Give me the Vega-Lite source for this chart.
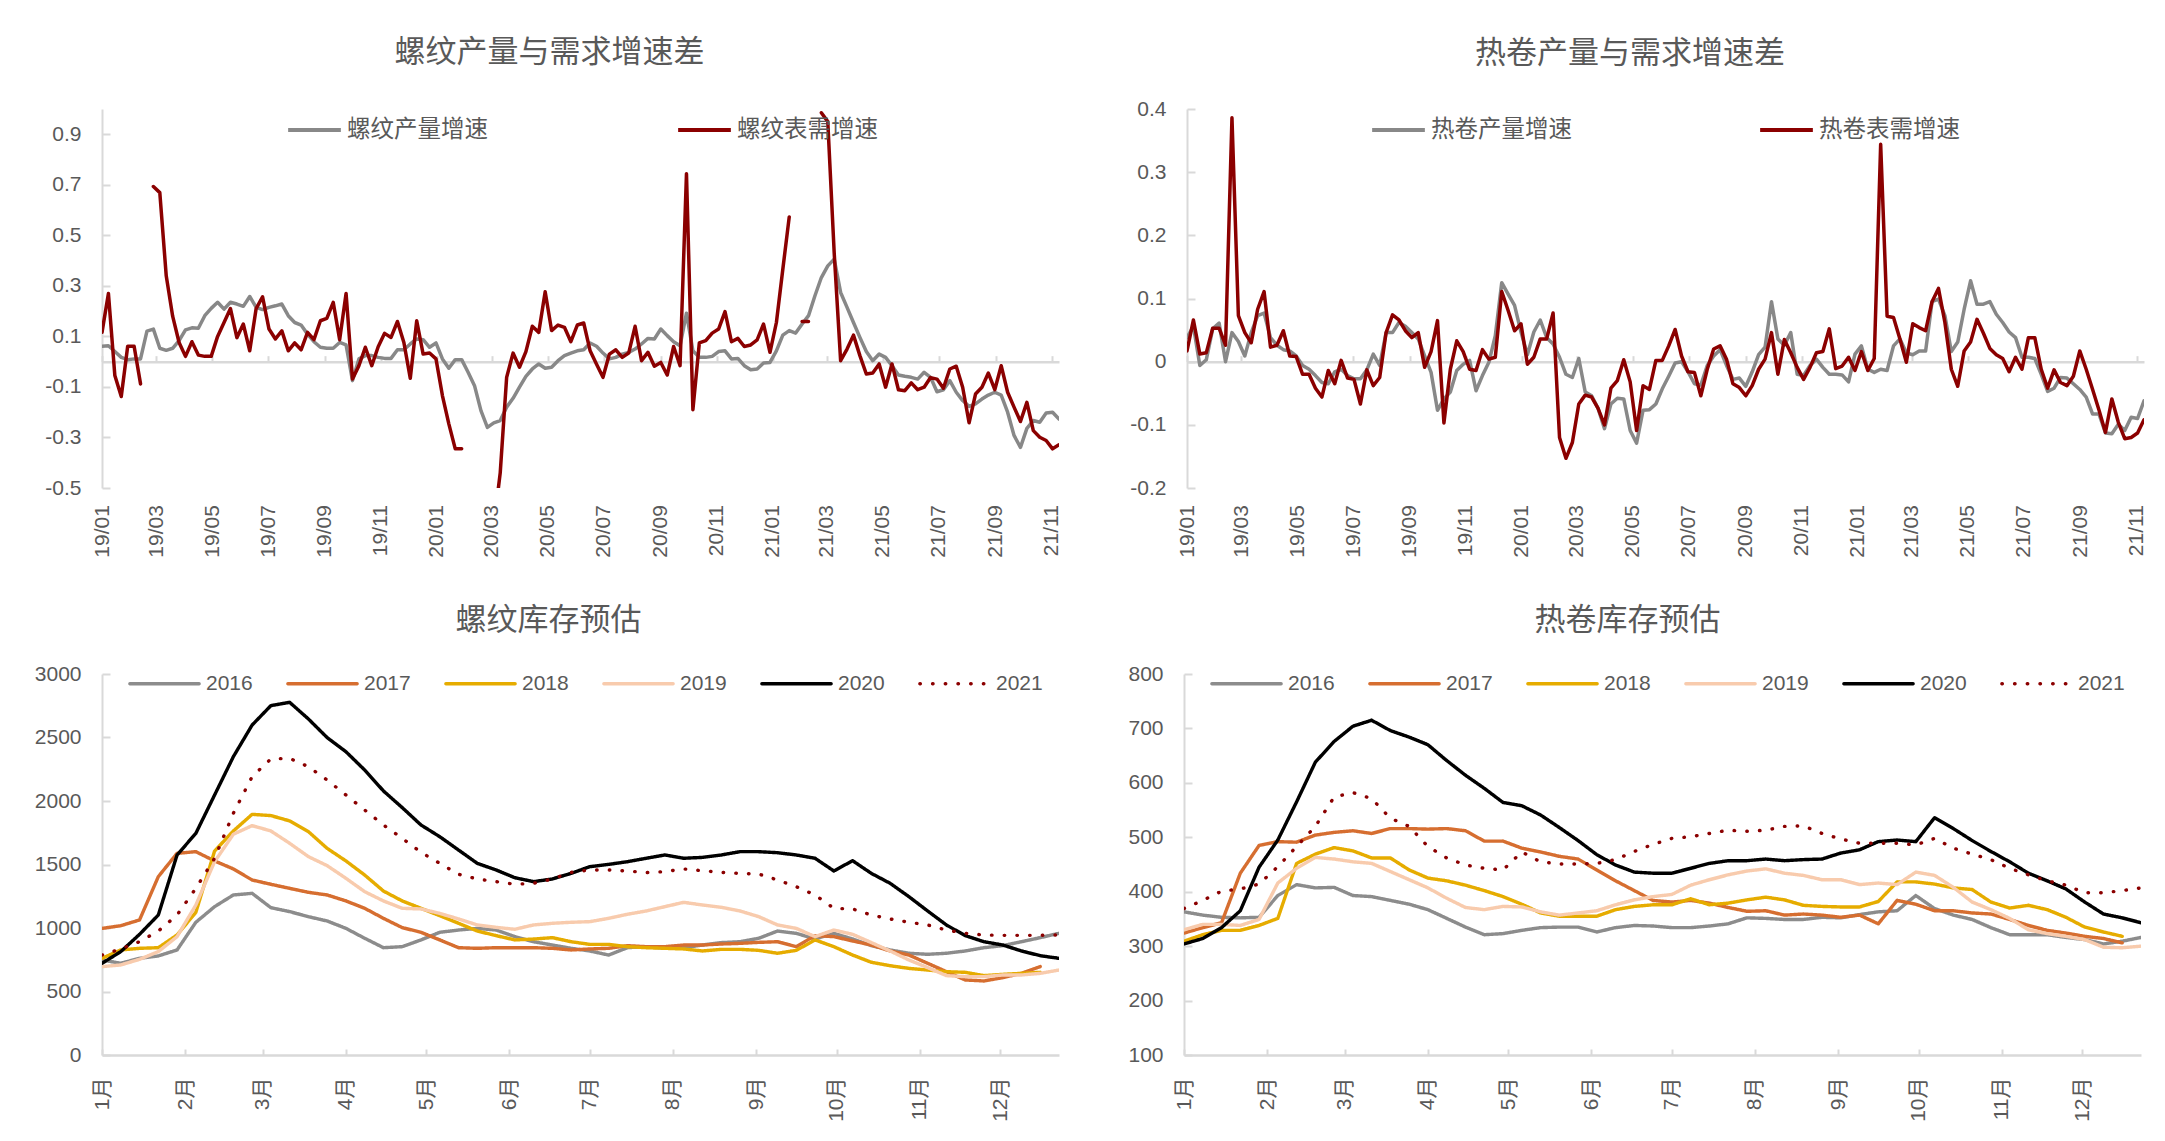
{
"$schema": "https://vega.github.io/schema/vega-lite/v6.json",
"background": "white",
"padding": {"left": 4, "top": 37, "right": 5, "bottom": 5},
"config": {
  "view": {"stroke": null},
  "font": "Liberation Sans",
  "axis": {"labelFont": "Liberation Sans, Noto Sans CJK SC", "labelFontSize": 21, "labelColor": "#595959", "grid": false, "domainColor": "#d9d9d9", "domainWidth": 2, "tickColor": "#d9d9d9", "tickWidth": 2},
  "axisY": {"ticks": true, "tickSize": -8, "domainWidth": 2},
  "title": {"font": "Noto Sans CJK SC", "fontSize": 31, "fontWeight": "normal", "color": "#595959", "offset": 38, "anchor": "middle"}
},
"datasets": {
"top": [
{"t":"2019-01-01","p1":0.061,"q1":0.116,"p2":0.038,"q2":0.017},
{"t":"2019-01-08","p1":0.063,"q1":0.27,"p2":0.056,"q2":0.066},
{"t":"2019-01-15","p1":0.04,"q1":-0.055,"p2":-0.006,"q2":0.012},
{"t":"2019-01-22","p1":0.017,"q1":-0.138,"p2":0.003,"q2":0.014},
{"t":"2019-01-29","p1":0.008,"q1":0.061,"p2":0.052,"q2":0.053},
{"t":"2019-02-05","p1":0.011,"q1":0.061,"p2":0.061,"q2":0.053},
{"t":"2019-02-12","p1":0.011,"q1":-0.088,"p2":0,"q2":0.026},
{"t":"2019-02-19","p1":0.121,"q1":null,"p2":0.046,"q2":0.386},
{"t":"2019-02-26","p1":0.129,"q1":0.693,"p2":0.032,"q2":0.073},
{"t":"2019-03-05","p1":0.053,"q1":0.669,"p2":0.009,"q2":0.046},
{"t":"2019-03-12","p1":0.045,"q1":0.34,"p2":0.046,"q2":0.03},
{"t":"2019-03-19","p1":0.053,"q1":0.18,"p2":0.073,"q2":0.083},
{"t":"2019-03-26","p1":0.083,"q1":0.076,"p2":0.077,"q2":0.111},
{"t":"2019-04-02","p1":0.126,"q1":0.021,"p2":0.038,"q2":0.023},
{"t":"2019-04-09","p1":0.134,"q1":0.079,"p2":0.026,"q2":0.026},
{"t":"2019-04-16","p1":0.132,"q1":0.026,"p2":0.019,"q2":0.049},
{"t":"2019-04-23","p1":0.182,"q1":0.021,"p2":0.017,"q2":0.009},
{"t":"2019-04-30","p1":0.211,"q1":0.021,"p2":0.009,"q2":0.008},
{"t":"2019-05-07","p1":0.235,"q1":0.10,"p2":-0.006,"q2":-0.02},
{"t":"2019-05-14","p1":0.208,"q1":0.155,"p2":-0.012,"q2":-0.02},
{"t":"2019-05-21","p1":0.235,"q1":0.21,"p2":-0.022,"q2":-0.042},
{"t":"2019-05-28","p1":0.228,"q1":0.095,"p2":-0.033,"q2":-0.056},
{"t":"2019-06-04","p1":0.219,"q1":0.149,"p2":-0.035,"q2":-0.014},
{"t":"2019-06-11","p1":0.258,"q1":0.043,"p2":-0.016,"q2":-0.035},
{"t":"2019-06-18","p1":0.215,"q1":0.21,"p2":-0.012,"q2":0.002},
{"t":"2019-06-25","p1":0.206,"q1":0.257,"p2":-0.022,"q2":-0.026},
{"t":"2019-07-02","p1":0.215,"q1":0.129,"p2":-0.027,"q2":-0.028},
{"t":"2019-07-09","p1":0.221,"q1":0.09,"p2":-0.027,"q2":-0.067},
{"t":"2019-07-16","p1":0.228,"q1":0.122,"p2":-0.013,"q2":-0.013},
{"t":"2019-07-23","p1":0.182,"q1":0.043,"p2":0.012,"q2":-0.038},
{"t":"2019-07-30","p1":0.155,"q1":0.074,"p2":-0.006,"q2":-0.025},
{"t":"2019-08-06","p1":0.145,"q1":0.047,"p2":0.046,"q2":0.046},
{"t":"2019-08-13","p1":0.109,"q1":0.116,"p2":0.046,"q2":0.074},
{"t":"2019-08-20","p1":0.079,"q1":0.087,"p2":0.062,"q2":0.066},
{"t":"2019-08-27","p1":0.057,"q1":0.162,"p2":0.056,"q2":0.049},
{"t":"2019-09-03","p1":0.053,"q1":0.171,"p2":0.046,"q2":0.038},
{"t":"2019-09-10","p1":0.053,"q1":0.235,"p2":0.036,"q2":0.046},
{"t":"2019-09-17","p1":0.076,"q1":0.087,"p2":0.009,"q2":-0.009},
{"t":"2019-09-24","p1":0.066,"q1":0.27,"p2":-0.017,"q2":0.016},
{"t":"2019-10-01","p1":-0.075,"q1":-0.069,"p2":-0.077,"q2":0.065},
{"t":"2019-10-08","p1":0.011,"q1":-0.016,"p2":-0.059,"q2":-0.097},
{"t":"2019-10-15","p1":0.024,"q1":0.057,"p2":-0.048,"q2":-0.012},
{"t":"2019-10-22","p1":0.024,"q1":-0.016,"p2":-0.014,"q2":0.033},
{"t":"2019-10-29","p1":0.017,"q1":0.059,"p2":-0.004,"q2":0.016},
{"t":"2019-11-05","p1":0.013,"q1":0.112,"p2":0.002,"q2":-0.012},
{"t":"2019-11-12","p1":0.013,"q1":0.096,"p2":-0.046,"q2":-0.014},
{"t":"2019-11-19","p1":0.047,"q1":0.159,"p2":-0.022,"q2":0.019},
{"t":"2019-11-26","p1":0.047,"q1":0.076,"p2":-0.001,"q2":0.004},
{"t":"2019-12-03","p1":0.07,"q1":-0.066,"p2":0.041,"q2":0.007},
{"t":"2019-12-10","p1":0.09,"q1":0.162,"p2":0.125,"q2":0.111},
{"t":"2019-12-17","p1":0.087,"q1":0.03,"p2":0.107,"q2":0.081},
{"t":"2019-12-24","p1":0.057,"q1":0.034,"p2":0.089,"q2":0.049},
{"t":"2019-12-31","p1":0.074,"q1":0.011,"p2":0.047,"q2":0.06},
{"t":"2020-01-07","p1":0.011,"q1":-0.134,"p2":0.011,"q2":-0.004},
{"t":"2020-01-14","p1":-0.026,"q1":-0.246,"p2":0.047,"q2":0.007},
{"t":"2020-01-21","p1":0.008,"q1":-0.345,"p2":0.066,"q2":0.036},
{"t":"2020-01-28","p1":0.008,"q1":-0.345,"p2":0.038,"q2":0.036},
{"t":"2020-02-04","p1":-0.042,"q1":null,"p2":0.028,"q2":0.077},
{"t":"2020-02-11","p1":-0.095,"q1":null,"p2":0.007,"q2":-0.12},
{"t":"2020-02-18","p1":-0.194,"q1":null,"p2":-0.02,"q2":-0.153},
{"t":"2020-02-25","p1":-0.26,"q1":null,"p2":-0.025,"q2":-0.128},
{"t":"2020-03-03","p1":-0.242,"q1":-0.65,"p2":0.005,"q2":-0.067},
{"t":"2020-03-10","p1":-0.233,"q1":-0.44,"p2":-0.048,"q2":-0.053},
{"t":"2020-03-17","p1":-0.18,"q1":-0.062,"p2":-0.054,"q2":-0.056},
{"t":"2020-03-24","p1":-0.145,"q1":0.034,"p2":-0.074,"q2":-0.074},
{"t":"2020-03-31","p1":-0.101,"q1":-0.022,"p2":-0.106,"q2":-0.1},
{"t":"2020-04-07","p1":-0.058,"q1":0.04,"p2":-0.067,"q2":-0.042},
{"t":"2020-04-14","p1":-0.029,"q1":0.14,"p2":-0.058,"q2":-0.03},
{"t":"2020-04-21","p1":-0.009,"q1":0.116,"p2":-0.059,"q2":0.003},
{"t":"2020-04-28","p1":-0.026,"q1":0.277,"p2":-0.109,"q2":-0.032},
{"t":"2020-05-05","p1":-0.022,"q1":0.123,"p2":-0.129,"q2":-0.109},
{"t":"2020-05-12","p1":0.004,"q1":0.145,"p2":-0.077,"q2":-0.038},
{"t":"2020-05-19","p1":0.024,"q1":0.136,"p2":-0.076,"q2":-0.044},
{"t":"2020-05-26","p1":0.034,"q1":0.079,"p2":-0.067,"q2":0.002},
{"t":"2020-06-02","p1":0.043,"q1":0.145,"p2":-0.043,"q2":0.002},
{"t":"2020-06-09","p1":0.047,"q1":0.153,"p2":-0.023,"q2":0.025},
{"t":"2020-06-16","p1":0.074,"q1":0.043,"p2":-0.002,"q2":0.051},
{"t":"2020-06-23","p1":0.061,"q1":-0.01,"p2":0,"q2":0.009},
{"t":"2020-06-30","p1":0.034,"q1":-0.062,"p2":-0.016,"q2":-0.016},
{"t":"2020-07-07","p1":0.011,"q1":0.03,"p2":-0.035,"q2":-0.017},
{"t":"2020-07-14","p1":0.017,"q1":0.047,"p2":-0.037,"q2":-0.054},
{"t":"2020-07-21","p1":0.03,"q1":0.017,"p2":-0.006,"q2":-0.012},
{"t":"2020-07-28","p1":0.037,"q1":0.034,"p2":0.009,"q2":0.02},
{"t":"2020-08-04","p1":0.05,"q1":0.14,"p2":0.019,"q2":0.025},
{"t":"2020-08-11","p1":0.07,"q1":0.004,"p2":-0.006,"q2":0.004},
{"t":"2020-08-18","p1":0.092,"q1":0.037,"p2":-0.028,"q2":-0.035},
{"t":"2020-08-25","p1":0.09,"q1":-0.018,"p2":-0.026,"q2":-0.041},
{"t":"2020-09-01","p1":0.129,"q1":-0.003,"p2":-0.039,"q2":-0.054},
{"t":"2020-09-08","p1":0.103,"q1":-0.053,"p2":-0.016,"q2":-0.038},
{"t":"2020-09-15","p1":0.079,"q1":0.06,"p2":0.011,"q2":-0.012},
{"t":"2020-09-22","p1":0.063,"q1":-0.016,"p2":0.023,"q2":0.004},
{"t":"2020-09-29","p1":0.192,"q1":0.744,"p2":0.095,"q2":0.046},
{"t":"2020-10-06","p1":0.043,"q1":-0.19,"p2":0.036,"q2":-0.02},
{"t":"2020-10-13","p1":0.017,"q1":0.074,"p2":0.026,"q2":0.035},
{"t":"2020-10-20","p1":0.017,"q1":0.083,"p2":0.046,"q2":0.014},
{"t":"2020-10-27","p1":0.021,"q1":0.113,"p2":-0.02,"q2":-0.009},
{"t":"2020-11-03","p1":0.04,"q1":0.129,"p2":-0.022,"q2":-0.028},
{"t":"2020-11-10","p1":0.043,"q1":0.198,"p2":-0.006,"q2":-0.009},
{"t":"2020-11-17","p1":0.011,"q1":0.079,"p2":0.004,"q2":0.014},
{"t":"2020-11-24","p1":0.013,"q1":0.092,"p2":-0.009,"q2":0.016},
{"t":"2020-12-01","p1":-0.016,"q1":0.06,"p2":-0.02,"q2":0.052},
{"t":"2020-12-08","p1":-0.032,"q1":0.066,"p2":-0.02,"q2":-0.011},
{"t":"2020-12-15","p1":-0.029,"q1":0.086,"p2":-0.021,"q2":-0.007},
{"t":"2020-12-22","p1":-0.005,"q1":0.149,"p2":-0.032,"q2":0.007},
{"t":"2020-12-29","p1":-0.003,"q1":0.037,"p2":0.012,"q2":-0.014},
{"t":"2021-01-05","p1":0.043,"q1":0.155,"p2":0.025,"q2":0.016},
{"t":"2021-01-12","p1":0.105,"q1":0.366,"p2":-0.012,"q2":-0.014},
{"t":"2021-01-19","p1":0.123,"q1":0.573,"p2":-0.017,"q2":0.005},
{"t":"2021-01-26","p1":0.113,"q1":null,"p2":-0.012,"q2":0.344},
{"t":"2021-02-02","p1":0.149,"q1":0.159,"p2":-0.014,"q2":0.072},
{"t":"2021-02-09","p1":0.182,"q1":0.159,"p2":0.025,"q2":0.07},
{"t":"2021-02-16","p1":0.261,"q1":null,"p2":0.036,"q2":0.036},
{"t":"2021-02-23","p1":0.333,"q1":0.985,"p2":0.014,"q2":-0.001},
{"t":"2021-03-02","p1":0.379,"q1":0.95,"p2":0.011,"q2":0.06},
{"t":"2021-03-09","p1":0.406,"q1":0.43,"p2":0.017,"q2":0.054},
{"t":"2021-03-16","p1":0.274,"q1":0.004,"p2":0.017,"q2":0.049},
{"t":"2021-03-23","p1":0.215,"q1":0.05,"p2":0.095,"q2":0.095},
{"t":"2021-03-30","p1":0.155,"q1":0.105,"p2":0.099,"q2":0.116},
{"t":"2021-04-06","p1":0.096,"q1":0.024,"p2":0.073,"q2":0.062},
{"t":"2021-04-13","p1":0.04,"q1":-0.049,"p2":0.016,"q2":-0.012},
{"t":"2021-04-20","p1":0.004,"q1":-0.045,"p2":0.031,"q2":-0.039},
{"t":"2021-04-27","p1":0.03,"q1":-0.009,"p2":0.083,"q2":0.017},
{"t":"2021-05-04","p1":0.017,"q1":-0.101,"p2":0.128,"q2":0.031},
{"t":"2021-05-11","p1":-0.016,"q1":-0.009,"p2":0.091,"q2":0.067},
{"t":"2021-05-18","p1":-0.053,"q1":-0.111,"p2":0.091,"q2":0.045},
{"t":"2021-05-25","p1":-0.058,"q1":-0.115,"p2":0.095,"q2":0.021},
{"t":"2021-06-01","p1":-0.062,"q1":-0.084,"p2":0.075,"q2":0.011},
{"t":"2021-06-08","p1":-0.069,"q1":-0.111,"p2":0.062,"q2":0.005},
{"t":"2021-06-15","p1":-0.042,"q1":-0.101,"p2":0.047,"q2":-0.016},
{"t":"2021-06-22","p1":-0.062,"q1":-0.063,"p2":0.038,"q2":0.007},
{"t":"2021-06-29","p1":-0.119,"q1":-0.069,"p2":0.007,"q2":-0.012},
{"t":"2021-07-06","p1":-0.111,"q1":-0.105,"p2":0.007,"q2":0.038},
{"t":"2021-07-13","p1":-0.075,"q1":-0.029,"p2":0.005,"q2":0.038},
{"t":"2021-07-20","p1":-0.121,"q1":-0.018,"p2":-0.02,"q2":-0.012},
{"t":"2021-07-27","p1":-0.154,"q1":-0.101,"p2":-0.047,"q2":-0.042},
{"t":"2021-08-03","p1":-0.177,"q1":-0.242,"p2":-0.042,"q2":-0.013},
{"t":"2021-08-10","p1":-0.167,"q1":-0.128,"p2":-0.025,"q2":-0.033},
{"t":"2021-08-17","p1":-0.148,"q1":-0.101,"p2":-0.026,"q2":-0.038},
{"t":"2021-08-24","p1":-0.132,"q1":-0.045,"p2":-0.035,"q2":-0.023},
{"t":"2021-08-31","p1":-0.121,"q1":-0.111,"p2":-0.044,"q2":0.017},
{"t":"2021-09-07","p1":-0.132,"q1":-0.016,"p2":-0.056,"q2":-0.012},
{"t":"2021-09-14","p1":-0.2,"q1":-0.121,"p2":-0.083,"q2":-0.044},
{"t":"2021-09-21","p1":-0.292,"q1":-0.18,"p2":-0.083,"q2":-0.077},
{"t":"2021-09-28","p1":-0.339,"q1":-0.237,"p2":-0.113,"q2":-0.112},
{"t":"2021-10-05","p1":-0.264,"q1":-0.161,"p2":-0.114,"q2":-0.059},
{"t":"2021-10-12","p1":-0.233,"q1":-0.273,"p2":-0.099,"q2":-0.096},
{"t":"2021-10-19","p1":-0.24,"q1":-0.299,"p2":-0.109,"q2":-0.122},
{"t":"2021-10-26","p1":-0.203,"q1":-0.312,"p2":-0.088,"q2":-0.12},
{"t":"2021-11-02","p1":-0.2,"q1":-0.345,"p2":-0.09,"q2":-0.113},
{"t":"2021-11-09","p1":-0.227,"q1":-0.329,"p2":-0.062,"q2":-0.092}
],
"rb": [
{"d":"2020-01-01","2016":748,"2017":997,"2018":761,"2019":696,"2020":722,"2021":787},
{"d":"2020-01-08","2016":722,"2017":1018,"2018":827,"2019":709,"2020":814,"2021":835},
{"d":"2020-01-15","2016":761,"2017":1063,"2018":840,"2019":753,"2020":950,"2021":892},
{"d":"2020-01-22","2016":780,"2017":1404,"2018":845,"2019":814,"2020":1102,"2021":976},
{"d":"2020-01-29","2016":827,"2017":1588,"2018":945,"2019":932,"2020":1575,"2021":1102},
{"d":"2020-02-05","2016":1045,"2017":1601,"2018":1123,"2019":1181,"2020":1745,"2021":1312},
{"d":"2020-02-12","2016":1168,"2017":1528,"2018":1606,"2019":1522,"2020":2047,"2021":1549},
{"d":"2020-02-19","2016":1260,"2017":1465,"2018":1764,"2019":1738,"2020":2349,"2021":1903},
{"d":"2020-02-26","2016":1273,"2017":1378,"2018":1895,"2019":1806,"2020":2598,"2021":2192},
{"d":"2020-03-04","2016":1160,"2017":1344,"2018":1885,"2019":1764,"2020":2751,"2021":2331},
{"d":"2020-03-11","2016":1129,"2017":1312,"2018":1843,"2019":1667,"2020":2777,"2021":2336},
{"d":"2020-03-18","2016":1089,"2017":1281,"2018":1759,"2019":1562,"2020":2646,"2021":2270},
{"d":"2020-03-25","2016":1055,"2017":1260,"2018":1627,"2019":1491,"2020":2499,"2021":2165},
{"d":"2020-04-01","2016":997,"2017":1213,"2018":1528,"2019":1391,"2020":2388,"2021":2047},
{"d":"2020-04-08","2016":919,"2017":1155,"2018":1417,"2019":1286,"2020":2244,"2021":1929},
{"d":"2020-04-15","2016":845,"2017":1076,"2018":1291,"2019":1213,"2020":2079,"2021":1811},
{"d":"2020-04-22","2016":853,"2017":1003,"2018":1213,"2019":1155,"2020":1948,"2021":1706},
{"d":"2020-04-29","2016":906,"2017":966,"2018":1155,"2019":1150,"2020":1811,"2021":1596},
{"d":"2020-05-06","2016":966,"2017":906,"2018":1097,"2019":1115,"2020":1719,"2021":1509},
{"d":"2020-05-13","2016":984,"2017":845,"2018":1037,"2019":1071,"2020":1614,"2021":1423},
{"d":"2020-05-20","2016":997,"2017":840,"2018":976,"2019":1024,"2020":1509,"2021":1386},
{"d":"2020-05-27","2016":984,"2017":845,"2018":940,"2019":1005,"2020":1457,"2021":1365},
{"d":"2020-06-03","2016":932,"2017":845,"2018":906,"2019":990,"2020":1396,"2021":1344},
{"d":"2020-06-10","2016":892,"2017":845,"2018":913,"2019":1024,"2020":1365,"2021":1352},
{"d":"2020-06-17","2016":866,"2017":840,"2018":924,"2019":1037,"2020":1386,"2021":1386},
{"d":"2020-06-24","2016":840,"2017":827,"2018":892,"2019":1045,"2020":1430,"2021":1438},
{"d":"2020-07-01","2016":819,"2017":835,"2018":871,"2019":1050,"2020":1483,"2021":1457},
{"d":"2020-07-08","2016":787,"2017":840,"2018":871,"2019":1076,"2020":1501,"2021":1457},
{"d":"2020-07-15","2016":845,"2017":861,"2018":853,"2019":1108,"2020":1522,"2021":1449},
{"d":"2020-07-22","2016":853,"2017":853,"2018":845,"2019":1134,"2020":1549,"2021":1436},
{"d":"2020-07-29","2016":840,"2017":853,"2018":840,"2019":1168,"2020":1575,"2021":1444},
{"d":"2020-08-05","2016":845,"2017":866,"2018":835,"2019":1202,"2020":1549,"2021":1465},
{"d":"2020-08-12","2016":866,"2017":866,"2018":819,"2019":1181,"2020":1556,"2021":1451},
{"d":"2020-08-19","2016":885,"2017":874,"2018":832,"2019":1163,"2020":1575,"2021":1438},
{"d":"2020-08-26","2016":892,"2017":879,"2018":832,"2019":1134,"2020":1601,"2021":1430},
{"d":"2020-09-02","2016":919,"2017":887,"2018":824,"2019":1089,"2020":1601,"2021":1425},
{"d":"2020-09-09","2016":976,"2017":892,"2018":801,"2019":1024,"2020":1593,"2021":1378},
{"d":"2020-09-16","2016":958,"2017":853,"2018":824,"2019":997,"2020":1575,"2021":1325},
{"d":"2020-09-23","2016":913,"2017":940,"2018":906,"2019":932,"2020":1549,"2021":1260},
{"d":"2020-09-30","2016":958,"2017":932,"2018":853,"2019":984,"2020":1449,"2021":1155},
{"d":"2020-10-07","2016":913,"2017":898,"2018":787,"2019":950,"2020":1530,"2021":1150},
{"d":"2020-10-14","2016":861,"2017":866,"2018":730,"2019":885,"2020":1430,"2021":1102},
{"d":"2020-10-21","2016":827,"2017":819,"2018":703,"2019":819,"2020":1352,"2021":1071},
{"d":"2020-10-28","2016":801,"2017":787,"2018":682,"2019":748,"2020":1247,"2021":1045},
{"d":"2020-11-04","2016":793,"2017":722,"2018":669,"2019":688,"2020":1134,"2021":1024},
{"d":"2020-11-11","2016":801,"2017":656,"2018":656,"2019":625,"2020":1024,"2021":984},
{"d":"2020-11-18","2016":819,"2017":591,"2018":651,"2019":617,"2020":940,"2021":958},
{"d":"2020-11-25","2016":845,"2017":583,"2018":625,"2019":617,"2020":892,"2021":945},
{"d":"2020-12-02","2016":861,"2017":609,"2018":635,"2019":630,"2020":866,"2021":942},
{"d":"2020-12-09","2016":892,"2017":643,"2018":643,"2019":630,"2020":819,"2021":942},
{"d":"2020-12-16","2016":924,"2017":696,"2018":651,"2019":643,"2020":782,"2021":942},
{"d":"2020-12-23","2016":958,"2017":null,"2018":null,"2019":669,"2020":761,"2021":945}
],
"hb": [
{"d":"2020-01-01","2016":363,"2017":324,"2018":309,"2019":330,"2020":304,"2021":369},
{"d":"2020-01-08","2016":357,"2017":334,"2018":321,"2019":340,"2020":314,"2021":384},
{"d":"2020-01-15","2016":353,"2017":343,"2018":329,"2019":340,"2020":334,"2021":401},
{"d":"2020-01-22","2016":352,"2017":434,"2018":329,"2019":338,"2020":365,"2021":405},
{"d":"2020-01-29","2016":353,"2017":485,"2018":338,"2019":349,"2020":445,"2021":414},
{"d":"2020-02-05","2016":393,"2017":492,"2018":351,"2019":416,"2020":495,"2021":446},
{"d":"2020-02-12","2016":413,"2017":491,"2018":452,"2019":443,"2020":565,"2021":483},
{"d":"2020-02-19","2016":407,"2017":504,"2018":469,"2019":463,"2020":638,"2021":520},
{"d":"2020-02-26","2016":408,"2017":509,"2018":481,"2019":460,"2020":676,"2021":574},
{"d":"2020-03-04","2016":393,"2017":512,"2018":475,"2019":455,"2020":704,"2021":582},
{"d":"2020-03-11","2016":391,"2017":507,"2018":462,"2019":452,"2020":715,"2021":571},
{"d":"2020-03-18","2016":384,"2017":516,"2018":462,"2019":437,"2020":696,"2021":535},
{"d":"2020-03-25","2016":377,"2017":516,"2018":440,"2019":422,"2020":684,"2021":520},
{"d":"2020-04-01","2016":367,"2017":515,"2018":425,"2019":407,"2020":670,"2021":483},
{"d":"2020-04-08","2016":351,"2017":516,"2018":420,"2019":388,"2020":641,"2021":462},
{"d":"2020-04-15","2016":335,"2017":512,"2018":412,"2019":371,"2020":614,"2021":449},
{"d":"2020-04-22","2016":321,"2017":493,"2018":402,"2019":367,"2020":590,"2021":443},
{"d":"2020-04-29","2016":323,"2017":493,"2018":391,"2019":373,"2020":564,"2021":440},
{"d":"2020-05-06","2016":329,"2017":480,"2018":377,"2019":372,"2020":558,"2021":473},
{"d":"2020-05-13","2016":334,"2017":473,"2018":361,"2019":363,"2020":541,"2021":455},
{"d":"2020-05-20","2016":335,"2017":465,"2018":355,"2019":357,"2020":518,"2021":451},
{"d":"2020-05-27","2016":335,"2017":460,"2018":355,"2019":361,"2020":494,"2021":451},
{"d":"2020-06-03","2016":326,"2017":440,"2018":355,"2019":365,"2020":468,"2021":452},
{"d":"2020-06-10","2016":334,"2017":420,"2018":367,"2019":376,"2020":449,"2021":459},
{"d":"2020-06-17","2016":338,"2017":402,"2018":373,"2019":385,"2020":436,"2021":474},
{"d":"2020-06-24","2016":337,"2017":384,"2018":376,"2019":391,"2020":434,"2021":487},
{"d":"2020-07-01","2016":334,"2017":381,"2018":376,"2019":395,"2020":434,"2021":498},
{"d":"2020-07-08","2016":334,"2017":384,"2018":387,"2019":412,"2020":443,"2021":501},
{"d":"2020-07-15","2016":337,"2017":379,"2018":376,"2019":422,"2020":452,"2021":507},
{"d":"2020-07-22","2016":341,"2017":371,"2018":379,"2019":431,"2020":457,"2021":513},
{"d":"2020-07-29","2016":352,"2017":364,"2018":385,"2019":438,"2020":457,"2021":511},
{"d":"2020-08-05","2016":351,"2017":365,"2018":390,"2019":442,"2020":460,"2021":513},
{"d":"2020-08-12","2016":349,"2017":357,"2018":385,"2019":434,"2020":457,"2021":520},
{"d":"2020-08-19","2016":349,"2017":359,"2018":375,"2019":430,"2020":459,"2021":521},
{"d":"2020-08-26","2016":353,"2017":357,"2018":373,"2019":422,"2020":460,"2021":507},
{"d":"2020-09-02","2016":352,"2017":353,"2018":372,"2019":422,"2020":471,"2021":497},
{"d":"2020-09-09","2016":358,"2017":357,"2018":372,"2019":413,"2020":477,"2021":489},
{"d":"2020-09-16","2016":363,"2017":341,"2018":382,"2019":416,"2020":492,"2021":489},
{"d":"2020-09-23","2016":365,"2017":384,"2018":418,"2019":413,"2020":495,"2021":489},
{"d":"2020-09-30","2016":393,"2017":377,"2018":418,"2019":436,"2020":492,"2021":486},
{"d":"2020-10-07","2016":369,"2017":365,"2018":414,"2019":430,"2020":536,"2021":498},
{"d":"2020-10-14","2016":357,"2017":365,"2018":407,"2019":408,"2020":516,"2021":480},
{"d":"2020-10-21","2016":349,"2017":361,"2018":404,"2019":381,"2020":494,"2021":469},
{"d":"2020-10-28","2016":334,"2017":359,"2018":381,"2019":367,"2020":474,"2021":459},
{"d":"2020-11-04","2016":321,"2017":349,"2018":370,"2019":351,"2020":455,"2021":443},
{"d":"2020-11-11","2016":321,"2017":338,"2018":375,"2019":330,"2020":434,"2021":431},
{"d":"2020-11-18","2016":321,"2017":329,"2018":367,"2019":323,"2020":420,"2021":420},
{"d":"2020-11-25","2016":316,"2017":324,"2018":353,"2019":318,"2020":405,"2021":412},
{"d":"2020-12-02","2016":312,"2017":318,"2018":335,"2019":312,"2020":381,"2021":398},
{"d":"2020-12-09","2016":304,"2017":314,"2018":326,"2019":298,"2020":359,"2021":398},
{"d":"2020-12-16","2016":309,"2017":306,"2018":318,"2019":297,"2020":352,"2021":402},
{"d":"2020-12-23","2016":316,"2017":null,"2018":null,"2019":300,"2020":343,"2021":407}
]
},
"resolve": {"scale": {"x": "independent", "y": "independent", "color": "independent", "strokeDash": "independent", "strokeWidth": "independent"}, "legend": {"color": "independent", "strokeDash": "independent", "strokeWidth": "independent"}},
"spacing": 47,
"vconcat": [
{
"spacing": 27,
"resolve": {"scale": {"x": "independent", "y": "independent", "color": "independent"}, "legend": {"color": "independent"}},
"hconcat": [
{
  "width": 957, "height": 379,
  "title": {"text": "螺纹产量与需求增速差", "dx": -31, "offset": 32.4},
  "data": {"name": "top"},
  "transform": [{"fold": ["p1", "q1"], "as": ["s", "v"]}],
  "mark": {"type": "line", "strokeWidth": 3.5, "clip": true, "strokeJoin": "round", "strokeCap": "round", "invalid": "break-paths-show-domains"},
  "encoding": {
    "x": {"field": "t", "type": "temporal", "title": null,
      "scale": {"type": "utc", "domain": [{"year": 2019, "month": 1, "date": 1, "utc": true}, {"year": 2021, "month": 11, "date": 9, "utc": true}]},
      "axis": {"offset": -126.33, "labelExpr": "utcFormat(datum.value, '%y/%m')", "labelAngle": -90, "labelAlign": "right", "labelBaseline": "middle", "labelPadding": 149, "tickSize": -6, "domainWidth": 2.5, "labelFlush": false, "labelOverlap": false,
        "values": [{"year":2019,"month":1,"date":1,"utc":true},{"year":2019,"month":3,"date":1,"utc":true},{"year":2019,"month":5,"date":1,"utc":true},{"year":2019,"month":7,"date":1,"utc":true},{"year":2019,"month":9,"date":1,"utc":true},{"year":2019,"month":11,"date":1,"utc":true},{"year":2020,"month":1,"date":1,"utc":true},{"year":2020,"month":3,"date":1,"utc":true},{"year":2020,"month":5,"date":1,"utc":true},{"year":2020,"month":7,"date":1,"utc":true},{"year":2020,"month":9,"date":1,"utc":true},{"year":2020,"month":11,"date":1,"utc":true},{"year":2021,"month":1,"date":1,"utc":true},{"year":2021,"month":3,"date":1,"utc":true},{"year":2021,"month":5,"date":1,"utc":true},{"year":2021,"month":7,"date":1,"utc":true},{"year":2021,"month":9,"date":1,"utc":true},{"year":2021,"month":11,"date":1,"utc":true}]}},
    "y": {"field": "v", "type": "quantitative", "title": null,
      "scale": {"domain": [-0.5, 1.0], "nice": false, "zero": false},
      "axis": {"values": [-0.5, -0.3, -0.1, 0.1, 0.3, 0.5, 0.7, 0.9], "labelExpr": "'' + datum.value", "labelPadding": 29, "minExtent": 98, "maxExtent": 98, "labelFlush": false}},
    "color": {"field": "s", "type": "nominal", "scale": {"domain": ["p1", "q1"], "range": ["#888888", "#8b0000"]},
      "legend": {"orient": "none", "legendX": 184, "legendY": -7.5, "direction": "horizontal", "columns": 2, "title": null, "padding": 0, "symbolType": "stroke", "symbolSize": 2780, "symbolStrokeWidth": 4, "labelOffset": 4, "columnPadding": 182, "labelFontSize": 23.5, "labelFont": "Noto Sans CJK SC", "labelColor": "#595959", "labelExpr": "datum.label == 'p1' ? '螺纹产量增速' : '螺纹表需增速'"}}
  }
},
{
  "width": 957, "height": 379,
  "title": {"text": "热卷产量与需求增速差", "dx": -35.5, "offset": 28.2},
  "data": {"name": "top"},
  "transform": [{"fold": ["p2", "q2"], "as": ["s", "v"]}],
  "mark": {"type": "line", "strokeWidth": 3.5, "clip": true, "strokeJoin": "round", "strokeCap": "round", "invalid": "break-paths-show-domains"},
  "encoding": {
    "x": {"field": "t", "type": "temporal", "title": null,
      "scale": {"type": "utc", "domain": [{"year": 2019, "month": 1, "date": 1, "utc": true}, {"year": 2021, "month": 11, "date": 9, "utc": true}]},
      "axis": {"offset": -126.33, "labelExpr": "utcFormat(datum.value, '%y/%m')", "labelAngle": -90, "labelAlign": "right", "labelBaseline": "middle", "labelPadding": 149, "tickSize": -6, "domainWidth": 2.5, "labelFlush": false, "labelOverlap": false,
        "values": [{"year":2019,"month":1,"date":1,"utc":true},{"year":2019,"month":3,"date":1,"utc":true},{"year":2019,"month":5,"date":1,"utc":true},{"year":2019,"month":7,"date":1,"utc":true},{"year":2019,"month":9,"date":1,"utc":true},{"year":2019,"month":11,"date":1,"utc":true},{"year":2020,"month":1,"date":1,"utc":true},{"year":2020,"month":3,"date":1,"utc":true},{"year":2020,"month":5,"date":1,"utc":true},{"year":2020,"month":7,"date":1,"utc":true},{"year":2020,"month":9,"date":1,"utc":true},{"year":2020,"month":11,"date":1,"utc":true},{"year":2021,"month":1,"date":1,"utc":true},{"year":2021,"month":3,"date":1,"utc":true},{"year":2021,"month":5,"date":1,"utc":true},{"year":2021,"month":7,"date":1,"utc":true},{"year":2021,"month":9,"date":1,"utc":true},{"year":2021,"month":11,"date":1,"utc":true}]}},
    "y": {"field": "v", "type": "quantitative", "title": null,
      "scale": {"domain": [-0.2, 0.4], "nice": false, "zero": false},
      "axis": {"values": [-0.2, -0.1, 0, 0.1, 0.2, 0.3, 0.4], "labelExpr": "'' + datum.value", "labelPadding": 29, "minExtent": 98, "maxExtent": 98, "labelFlush": false}},
    "color": {"field": "s", "type": "nominal", "scale": {"domain": ["p2", "q2"], "range": ["#888888", "#8b0000"]},
      "legend": {"orient": "none", "legendX": 183, "legendY": -7.5, "direction": "horizontal", "columns": 2, "title": null, "padding": 0, "symbolType": "stroke", "symbolSize": 2780, "symbolStrokeWidth": 4, "labelOffset": 4, "columnPadding": 180, "labelFontSize": 23.5, "labelFont": "Noto Sans CJK SC", "labelColor": "#595959", "labelExpr": "datum.label == 'p2' ? '热卷产量增速' : '热卷表需增速'"}}
  }
}
]
},
{
"spacing": 27,
"resolve": {"scale": {"x": "independent", "y": "independent", "color": "independent", "strokeDash": "independent", "strokeWidth": "independent"}, "legend": {"color": "independent", "strokeDash": "independent", "strokeWidth": "independent"}},
"hconcat": [
{
  "width": 957, "height": 381,
  "title": {"text": "螺纹库存预估", "dx": -32, "offset": 10},
  "data": {"name": "rb"},
  "transform": [{"fold": ["2016", "2017", "2018", "2019", "2020", "2021"], "as": ["year", "v"]}],
  "mark": {"type": "line", "clip": true, "strokeJoin": "round", "strokeCap": "round", "invalid": "break-paths-show-domains"},
  "encoding": {
    "x": {"field": "d", "type": "temporal", "title": null,
      "scale": {"type": "utc", "domain": [{"year": 2020, "month": 1, "date": 1, "utc": true}, {"year": 2020, "month": 12, "date": 23, "utc": true}]},
      "axis": {"labelExpr": "(utcmonth(datum.value) + 1) + '月'", "labelAngle": -90, "labelAlign": "right", "labelBaseline": "middle", "labelPadding": 28, "tickSize": -6, "domainWidth": 2.5, "labelFlush": false, "labelOverlap": false,
        "values": [{"year":2020,"month":1,"date":1,"utc":true},{"year":2020,"month":2,"date":1,"utc":true},{"year":2020,"month":3,"date":1,"utc":true},{"year":2020,"month":4,"date":1,"utc":true},{"year":2020,"month":5,"date":1,"utc":true},{"year":2020,"month":6,"date":1,"utc":true},{"year":2020,"month":7,"date":1,"utc":true},{"year":2020,"month":8,"date":1,"utc":true},{"year":2020,"month":9,"date":1,"utc":true},{"year":2020,"month":10,"date":1,"utc":true},{"year":2020,"month":11,"date":1,"utc":true},{"year":2020,"month":12,"date":1,"utc":true}]}},
    "y": {"field": "v", "type": "quantitative", "title": null,
      "scale": {"domain": [0, 3000], "nice": false},
      "axis": {"values": [0, 500, 1000, 1500, 2000, 2500, 3000], "labelExpr": "'' + datum.value", "labelPadding": 29, "minExtent": 98, "maxExtent": 98, "labelFlush": false}},
    "color": {"field": "year", "type": "ordinal", "scale": {"domain": ["2016", "2017", "2018", "2019", "2020", "2021"], "range": ["#8c8c8c", "#d66e30", "#e6ac00", "#f8cbad", "#000000", "#8b0000"]},
      "legend": {"orient": "none", "legendX": 26, "legendY": -27, "direction": "horizontal", "columns": 6, "title": null, "padding": 0, "symbolType": "stroke", "symbolSize": 4800, "labelOffset": 5, "columnPadding": 28, "labelFontSize": 21, "labelFont": "Liberation Sans", "labelColor": "#595959", "encode": {"symbols": {"update": {"strokeCap": {"value": "round"}}}}}},
    "strokeDash": {"field": "year", "type": "ordinal", "scale": {"domain": ["2016", "2017", "2018", "2019", "2020", "2021"], "range": [[1, 0], [1, 0], [1, 0], [1, 0], [1, 0], [0.5, 12.2]]},
      "legend": {"orient": "none", "legendX": 26, "legendY": -27, "direction": "horizontal", "columns": 6, "title": null, "padding": 0, "symbolType": "stroke", "symbolSize": 4800, "labelOffset": 5, "columnPadding": 28, "labelFontSize": 21, "labelFont": "Liberation Sans", "labelColor": "#595959", "encode": {"symbols": {"update": {"strokeCap": {"value": "round"}}}}}},
    "strokeWidth": {"field": "year", "type": "ordinal", "scale": {"domain": ["2016", "2017", "2018", "2019", "2020", "2021"], "range": [3.4, 3.4, 3.4, 3.4, 3.4, 5.4]},
      "legend": {"orient": "none", "legendX": 26, "legendY": -27, "direction": "horizontal", "columns": 6, "title": null, "padding": 0, "symbolType": "stroke", "symbolSize": 4800, "labelOffset": 5, "columnPadding": 28, "labelFontSize": 21, "labelFont": "Liberation Sans", "labelColor": "#595959", "encode": {"symbols": {"update": {"strokeCap": {"value": "round"}}}}}}
  }
},
{
  "width": 957, "height": 381,
  "title": {"text": "热卷库存预估", "dx": -35, "offset": 10},
  "data": {"name": "hb"},
  "transform": [{"fold": ["2016", "2017", "2018", "2019", "2020", "2021"], "as": ["year", "v"]}],
  "mark": {"type": "line", "clip": true, "strokeJoin": "round", "strokeCap": "round", "invalid": "break-paths-show-domains"},
  "encoding": {
    "x": {"field": "d", "type": "temporal", "title": null,
      "scale": {"type": "utc", "domain": [{"year": 2020, "month": 1, "date": 1, "utc": true}, {"year": 2020, "month": 12, "date": 23, "utc": true}]},
      "axis": {"labelExpr": "(utcmonth(datum.value) + 1) + '月'", "labelAngle": -90, "labelAlign": "right", "labelBaseline": "middle", "labelPadding": 28, "tickSize": -6, "domainWidth": 2.5, "labelFlush": false, "labelOverlap": false,
        "values": [{"year":2020,"month":1,"date":1,"utc":true},{"year":2020,"month":2,"date":1,"utc":true},{"year":2020,"month":3,"date":1,"utc":true},{"year":2020,"month":4,"date":1,"utc":true},{"year":2020,"month":5,"date":1,"utc":true},{"year":2020,"month":6,"date":1,"utc":true},{"year":2020,"month":7,"date":1,"utc":true},{"year":2020,"month":8,"date":1,"utc":true},{"year":2020,"month":9,"date":1,"utc":true},{"year":2020,"month":10,"date":1,"utc":true},{"year":2020,"month":11,"date":1,"utc":true},{"year":2020,"month":12,"date":1,"utc":true}]}},
    "y": {"field": "v", "type": "quantitative", "title": null,
      "scale": {"domain": [100, 800], "nice": false, "zero": false},
      "axis": {"values": [100, 200, 300, 400, 500, 600, 700, 800], "labelExpr": "'' + datum.value", "labelPadding": 29, "minExtent": 98, "maxExtent": 98, "labelFlush": false}},
    "color": {"field": "year", "type": "ordinal", "scale": {"domain": ["2016", "2017", "2018", "2019", "2020", "2021"], "range": ["#8c8c8c", "#d66e30", "#e6ac00", "#f8cbad", "#000000", "#8b0000"]},
      "legend": {"orient": "none", "legendX": 26, "legendY": -27, "direction": "horizontal", "columns": 6, "title": null, "padding": 0, "symbolType": "stroke", "symbolSize": 4800, "labelOffset": 5, "columnPadding": 28, "labelFontSize": 21, "labelFont": "Liberation Sans", "labelColor": "#595959", "encode": {"symbols": {"update": {"strokeCap": {"value": "round"}}}}}},
    "strokeDash": {"field": "year", "type": "ordinal", "scale": {"domain": ["2016", "2017", "2018", "2019", "2020", "2021"], "range": [[1, 0], [1, 0], [1, 0], [1, 0], [1, 0], [0.5, 12.2]]},
      "legend": {"orient": "none", "legendX": 26, "legendY": -27, "direction": "horizontal", "columns": 6, "title": null, "padding": 0, "symbolType": "stroke", "symbolSize": 4800, "labelOffset": 5, "columnPadding": 28, "labelFontSize": 21, "labelFont": "Liberation Sans", "labelColor": "#595959", "encode": {"symbols": {"update": {"strokeCap": {"value": "round"}}}}}},
    "strokeWidth": {"field": "year", "type": "ordinal", "scale": {"domain": ["2016", "2017", "2018", "2019", "2020", "2021"], "range": [3.4, 3.4, 3.4, 3.4, 3.4, 5.4]},
      "legend": {"orient": "none", "legendX": 26, "legendY": -27, "direction": "horizontal", "columns": 6, "title": null, "padding": 0, "symbolType": "stroke", "symbolSize": 4800, "labelOffset": 5, "columnPadding": 28, "labelFontSize": 21, "labelFont": "Liberation Sans", "labelColor": "#595959", "encode": {"symbols": {"update": {"strokeCap": {"value": "round"}}}}}}
  }
}
]
}
]
}
